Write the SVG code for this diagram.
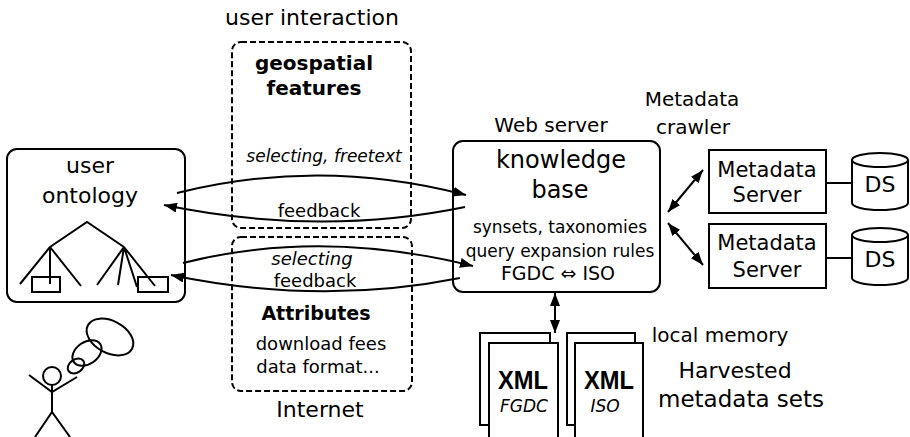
<svg xmlns="http://www.w3.org/2000/svg" width="910" height="437" viewBox="0 0 910 437">
  <style>
    text { font-family: "DejaVu Sans", "Liberation Sans", sans-serif; fill: #000; text-anchor: middle; }
    .box { fill: #fff; stroke: #000; stroke-width: 2; }
    .dash { fill: none; stroke: #000; stroke-width: 2; stroke-dasharray: 6 3; }
    .ln { fill: none; stroke: #000; stroke-width: 2; }
    .b { font-weight: bold; }
    .i { font-style: italic; }
    .xml { font-family: "Liberation Sans", Arial, sans-serif; font-weight: bold; font-size: 26px; }
  </style>
  <defs>
    <marker id="head" viewBox="0 0 13 10" refX="13" refY="5" markerWidth="13" markerHeight="10" markerUnits="userSpaceOnUse" orient="auto-start-reverse">
      <path d="M0,0 L13,5 L0,10 z" fill="#000"/>
    </marker>
  </defs>
  <rect width="910" height="437" fill="#fff"/>

  <!-- interaction zones -->
  <g id="zone-geospatial">
    <text x="312" y="25" font-size="22">user interaction</text>
    <rect class="dash" x="232" y="42" width="179" height="186" rx="9"/>
    <text class="b" x="314" y="70" font-size="20">geospatial</text>
    <text class="b" x="314" y="95" font-size="20">features</text>
    <text class="i" x="324" y="162" font-size="17">selecting, freetext</text>
    <text x="319" y="217" font-size="18">feedback</text>
  </g>
  <g id="zone-attributes">
    <rect class="dash" x="232" y="237" width="180" height="154" rx="9"/>
    <text class="i" x="312" y="265" font-size="18">selecting</text>
    <text x="315" y="287" font-size="18">feedback</text>
    <text class="b" x="316" y="320" font-size="19">Attributes</text>
    <text x="321" y="350" font-size="18">download fees</text>
    <text x="318" y="373" font-size="18">data format...</text>
    <text x="320" y="417" font-size="22">Internet</text>
  </g>

  <!-- user ontology -->
  <g id="user-ontology">
    <rect class="box" x="7" y="149" width="178" height="153" rx="10"/>
    <text x="90" y="173" font-size="22">user</text>
    <text x="90" y="203" font-size="22">ontology</text>
    <path class="ln" d="M50,247 L87,222 L124,247 M50,247 L20,284 M50,247 L50,284 M50,247 L81,286 M124,247 L97,285 M124,247 L118,285 M124,247 L137,287 M124,247 L155,286"/>
    <rect class="ln" x="32" y="277" width="28" height="15"/>
    <rect class="ln" x="138" y="277" width="30" height="15"/>
  </g>

  <!-- user with thought bubbles -->
  <g id="user">
    <circle class="ln" cx="52" cy="376" r="9"/>
    <path class="ln" d="M29,375 L52,392 L77,377 M52,385 L52,412 M35,437 L52,412 L70,437"/>
    <ellipse class="ln" cx="76" cy="366" rx="9" ry="6.5" transform="rotate(-35 76 366)"/>
    <ellipse class="ln" cx="87" cy="353" rx="16" ry="11" transform="rotate(-35 87 353)"/>
    <ellipse class="ln" cx="110" cy="337" rx="25" ry="16" transform="rotate(28 110 337)"/>
  </g>

  <!-- knowledge base -->
  <g id="knowledge-base">
    <text x="551" y="132" font-size="20">Web server</text>
    <rect class="box" x="453" y="141" width="207" height="151" rx="10"/>
    <text x="561" y="168" font-size="24">knowledge</text>
    <text x="560" y="198" font-size="24">base</text>
    <text x="560" y="233" font-size="17">synsets, taxonomies</text>
    <text x="560" y="257" font-size="17">query expansion rules</text>
    <text x="558" y="280" font-size="19">FGDC ⇔ ISO</text>
  </g>

  <g id="crawler-label">
    <text x="692" y="106" font-size="20">Metadata</text>
    <text x="693" y="134" font-size="20">crawler</text>
  </g>

  <!-- metadata servers and data stores -->
  <g id="metadata-server-1">
    <rect class="box" x="709" y="150" width="117" height="63"/>
    <text x="767" y="177" font-size="21">Metadata</text>
    <text x="767" y="202" font-size="21">Server</text>
  </g>
  <g id="metadata-server-2">
    <rect class="box" x="709" y="224" width="117" height="64"/>
    <text x="767" y="250" font-size="21">Metadata</text>
    <text x="767" y="277" font-size="21">Server</text>
  </g>
  <g id="ds-1">
    <path class="box" d="M852,160 A28,7 0 0 1 908,160 L908,203 A28,7 0 0 1 852,203 Z"/>
    <path class="ln" d="M852,160 A28,7 0 0 0 908,160"/>
    <text x="880" y="192" font-size="22">DS</text>
  </g>
  <g id="ds-2">
    <path class="box" d="M852,235 A28,7 0 0 1 908,235 L908,278 A28,7 0 0 1 852,278 Z"/>
    <path class="ln" d="M852,235 A28,7 0 0 0 908,235"/>
    <text x="880" y="267" font-size="22">DS</text>
  </g>

  <!-- harvested documents -->
  <g id="xml-fgdc">
    <rect class="box" x="480" y="333" width="70" height="92"/>
    <rect class="box" x="489" y="343" width="69" height="100"/>
    <text class="xml" x="523" y="389" textLength="50" lengthAdjust="spacingAndGlyphs">XML</text>
    <text class="i" x="524" y="412" font-size="17">FGDC</text>
  </g>
  <g id="xml-iso">
    <rect class="box" x="567" y="333" width="68" height="92"/>
    <rect class="box" x="575" y="343" width="68" height="100"/>
    <text class="xml" x="609" y="389" textLength="50" lengthAdjust="spacingAndGlyphs">XML</text>
    <text class="i" x="605" y="412" font-size="17">ISO</text>
  </g>
  <g id="harvest-label">
    <text x="720" y="342" font-size="20">local memory</text>
    <text x="735" y="378" font-size="22">Harvested</text>
    <text x="741" y="407" font-size="23">metadata sets</text>
  </g>

  <!-- connectors -->
  <g id="connectors">
    <path class="ln" d="M177,193 Q320,157 466,195" marker-end="url(#head)"/>
    <path class="ln" d="M465,207 Q320,237 164,205" marker-end="url(#head)"/>
    <path class="ln" d="M183,263 Q320,228 473,266" marker-end="url(#head)"/>
    <path class="ln" d="M460,278 Q320,306 171,275" marker-end="url(#head)"/>
    <path class="ln" d="M668,212 L703,170" marker-start="url(#head)" marker-end="url(#head)"/>
    <path class="ln" d="M668,223 L703,265" marker-start="url(#head)" marker-end="url(#head)"/>
    <path class="ln" d="M555,293 L555,333" marker-start="url(#head)" marker-end="url(#head)"/>
    <path class="ln" d="M826,183 L852,183 M826,258 L852,258"/>
  </g>
</svg>
